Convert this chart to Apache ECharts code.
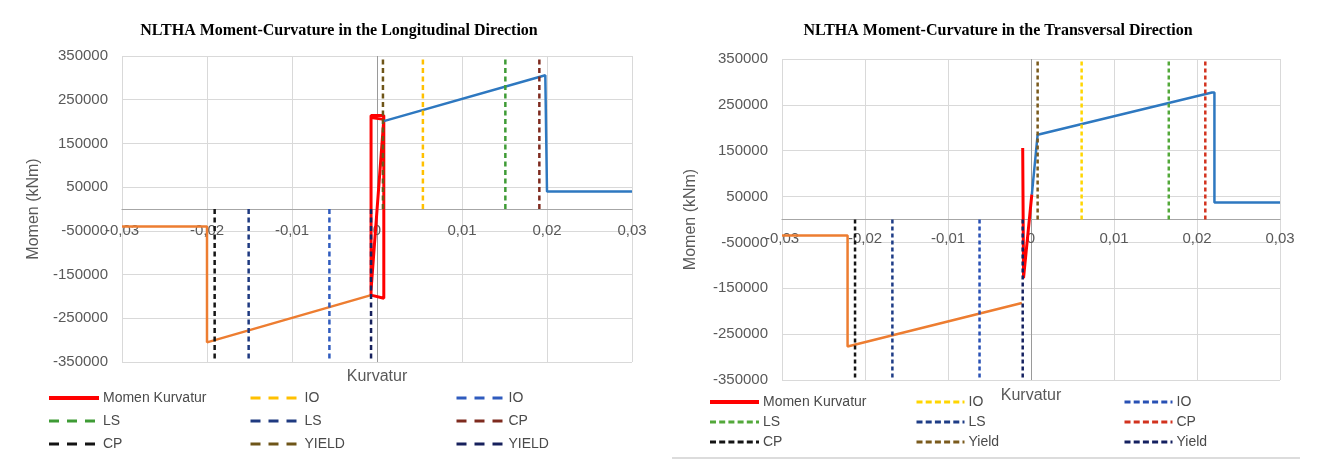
<!DOCTYPE html>
<html>
<head>
<meta charset="utf-8">
<title>NLTHA Moment-Curvature</title>
<script src="https://cdn.jsdelivr.net/npm/echarts@6/dist/echarts.min.js"></script>
<style>
  html, body { margin: 0; padding: 0; background: #fff; }
  #chart { width: 1317px; height: 470px; }
</style>
</head>
<body>
<div id="chart"></div>
<script>
// ---- data (curvature, moment kNm) ----
const titles = [
  "NLTHA Moment-Curvature in the Longitudinal Direction",
  "NLTHA Moment-Curvature in the Transversal Direction",
];

// longitudinal direction
const longMomen = [
  [-0.0007, -185000], [0.0008, 205000], [0.0008, 209000], [-0.0007, 209000],
  [-0.0007, 214000], [0.0008, 214000], [0.0008, -204000], [-0.0007, -197000],
  [-0.0007, 209000],
];
const longNegative = [[-0.03, -40000], [-0.02, -40000], [-0.02, -305000], [-0.0007, -197000]];
const longPositive = [[0.0008, 201000], [0.0198, 306000], [0.02, 306000], [0.02, 40000], [0.03, 40000]];
// IO, LS, CP, YIELD
const longLimitPos = [0.0054, 0.0151, 0.0191, 0.0007];
const longLimitNeg = [-0.0056, -0.0151, -0.0191, -0.0007];

// transversal direction
const transMomen = [[-0.001, 156000], [-0.0009, -128000], [0.0001, 55000]];
const transNegative = [[-0.03, -35000], [-0.0221, -35000], [-0.0221, -277000], [-0.0011, -182000]];
const transPositive = [[0.0001, 54000], [0.0008, 185000], [0.0218, 277000], [0.0221, 277000], [0.0221, 37000], [0.03, 37000]];
const transLimitPos = [0.0061, 0.0166, 0.021, 0.0008];
const transLimitNeg = [-0.0062, -0.0167, -0.0212, -0.001];

const limitNamesLong = ["IO", "LS", "CP", "YIELD"];
const limitNamesTrans = ["IO", "LS", "CP", "Yield"];
const momentTop = 350000;
const momentBottom = -350000;

// ---- styling ----
const posColors = ["#FFC000", "#3E9B35", "#7E2A1E", "#6E5518"];
const negColors = ["#2F5BBE", "#1F3A80", "#141414", "#16205C"];
const posColorsT = ["#FFD500", "#53A83A", "#D2321E", "#7A5A1C"];
const negColorsT = ["#2850B4", "#1E3C86", "#141414", "#142060"];

const textGray = "#595959";
const gridGray = "#d9d9d9";
const font = "Liberation Sans";

const chartDom = document.getElementById("chart");
const chart = echarts.init(chartDom);

function fmtX(v) {
  if (Math.abs(v) < 1e-9) return "0";
  return v.toFixed(2).replace(".", ",");
}

function fmtY(v) {
  return Math.abs(Math.round(v)) % 100000 === 50000 ? String(Math.round(v)) : "";
}

// the x axis sits on the zero line: shift it up from the grid bottom by half the plot height
function makeAxes(gi, plotHeight, labelMargin, nameGapX, nameGapY) {
  const xAxis = {
    gridIndex: gi,
    type: "value",
    position: "bottom",
    offset: -plotHeight / 2,
    min: -0.03,
    max: 0.03,
    interval: 0.01,
    name: "Kurvatur",
    nameLocation: "middle",
    nameGap: nameGapX,
    nameTextStyle: { fontFamily: font, fontSize: 16, color: textGray },
    axisLine: { onZero: false, lineStyle: { color: "#a6a6a6", width: 1.2 } },
    axisTick: { show: false },
    axisLabel: { formatter: fmtX, margin: labelMargin, fontFamily: font, fontSize: 15, color: textGray },
    splitLine: {
      lineStyle: { color: [gridGray, gridGray, gridGray, "#9a9a9a", gridGray, gridGray, gridGray], width: 1 },
    },
  };
  const yAxis = {
    gridIndex: gi,
    type: "value",
    min: momentBottom,
    max: momentTop,
    interval: 50000,
    name: "Momen (kNm)",
    nameLocation: "middle",
    nameGap: nameGapY,
    nameTextStyle: { fontFamily: font, fontSize: 16, color: textGray },
    axisLine: { show: false, onZero: false },
    axisTick: { show: false },
    axisLabel: { formatter: fmtY, margin: 14, fontFamily: font, fontSize: 15, color: textGray },
    splitLine: { lineStyle: { color: [gridGray, "rgba(0,0,0,0)"], width: 1 } },
  };
  return [xAxis, yAxis];
}

function limitSeries(prefix, gi, names, xs, colors, sign, dash) {
  return xs.map((x, i) => ({
    name: prefix + names[i] + sign,
    type: "line",
    xAxisIndex: gi,
    yAxisIndex: gi,
    symbol: "none",
    itemStyle: { color: colors[i] },
    lineStyle: { color: colors[i], width: 2.5, type: dash },
    data: [[x, 0], [x, sign === "+" ? momentTop : momentBottom]],
    z: 3,
  }));
}

function curveSeries(name, gi, data, color, width) {
  return {
    name: name,
    type: "line",
    xAxisIndex: gi,
    yAxisIndex: gi,
    symbol: "none",
    itemStyle: { color: color },
    lineStyle: { color: color, width: width },
    data: data,
    z: 2,
  };
}

const axesL = makeAxes(0, 306, 14, 160, 80);
const axesT = makeAxes(1, 321, 12, 168, 83);

const series = [
  curveSeries("L:Momen Kurvatur", 0, longMomen, "#FF0000", 3),
  curveSeries("L:neg", 0, longNegative, "#ED7D31", 2.5),
  curveSeries("L:pos", 0, longPositive, "#2E78C0", 2.5),
  ...limitSeries("L:", 0, limitNamesLong, longLimitPos, posColors, "+", [5, 3.5]),
  ...limitSeries("L:", 0, limitNamesLong, longLimitNeg, negColors, "-", [5, 3.5]),
  curveSeries("T:Momen Kurvatur", 1, transMomen, "#FF0000", 3),
  curveSeries("T:neg", 1, transNegative, "#ED7D31", 2.5),
  curveSeries("T:pos", 1, transPositive, "#2E78C0", 2.5),
  ...limitSeries("T:", 1, limitNamesTrans, transLimitPos, posColorsT, "+", [4, 3]),
  ...limitSeries("T:", 1, limitNamesTrans, transLimitNeg, negColorsT, "-", [4, 3]),
];

function legendLabel(name) {
  return name.slice(2).replace(/[+-]$/, "");
}

function legendColumn(left, top, gap, names, dash, iconW) {
  return {
    orient: "vertical",
    left: left,
    top: top,
    itemGap: gap,
    itemWidth: iconW,
    itemHeight: 14,
    selectedMode: false,
    formatter: legendLabel,
    textStyle: { fontFamily: font, fontSize: 14, color: "#4a4a4a", padding: [0, 0, 0, -1] },
    data: names.map((n) => ({
      name: n,
      itemStyle: { opacity: 0, color: "rgba(0,0,0,0)", borderWidth: 0 },
      lineStyle: n.indexOf("Momen") >= 0 ? { width: 4, type: "solid" } : { width: 3, type: dash },
    })),
  };
}

const dashL = [10, 8];
const dashT = [6, 3.2];

const legends = [
  legendColumn(42, 386, 9, ["L:Momen Kurvatur", "L:LS+", "L:CP-"], dashL, 50),
  legendColumn(244, 386, 9, ["L:IO+", "L:LS-", "L:YIELD+"], dashL, 50),
  legendColumn(450, 386, 9, ["L:IO-", "L:CP+", "L:YIELD-"], dashL, 48),
  legendColumn(703, 390, 6, ["T:Momen Kurvatur", "T:LS+", "T:CP-"], dashT, 49),
  legendColumn(910, 390, 6, ["T:IO+", "T:LS-", "T:Yield+"], dashT, 48),
  legendColumn(1118, 390, 6, ["T:IO-", "T:CP+", "T:Yield-"], dashT, 48),
];

const option = {
  backgroundColor: "#fff",
  animation: false,
  title: [
    {
      text: titles[0],
      left: 334,
      top: 18,
      textAlign: "center",
      textStyle: { fontFamily: "Liberation Serif", fontWeight: "bold", fontSize: 16, color: "#000" },
    },
    {
      text: titles[1],
      left: 993,
      top: 18,
      textAlign: "center",
      textStyle: { fontFamily: "Liberation Serif", fontWeight: "bold", fontSize: 16, color: "#000" },
    },
  ],
  grid: [
    { left: 122, top: 56, width: 510, height: 306, containLabel: false, outerBoundsMode: "none" },
    { left: 782, top: 59, width: 498, height: 321, containLabel: false, outerBoundsMode: "none" },
  ],
  xAxis: [axesL[0], axesT[0]],
  yAxis: [axesL[1], axesT[1]],
  legend: legends,
  series: series,
  graphic: [
    {
      type: "line",
      shape: { x1: 672, y1: 458, x2: 1300, y2: 458 },
      style: { stroke: "#d0d0d0", lineWidth: 1.5 },
      silent: true,
    },
  ],
};

chart.setOption(option);
</script>
</body>
</html>
